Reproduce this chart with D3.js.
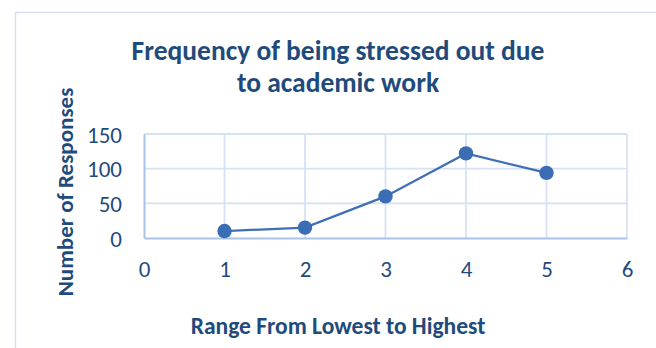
<!DOCTYPE html>
<html><head><meta charset="utf-8">
<script src="https://cdn.jsdelivr.net/npm/d3@7"></script>
<style>
html,body{margin:0;padding:0;background:#fff;}
svg{display:block;}
text{font-family:Carlito, Calibri, Lato, sans-serif;fill:#1f4b7c;}
</style></head>
<body><svg id="c" width="656" height="348"></svg>
<script>
const xValues = [1, 2, 3, 4, 5];
const responses = [10, 15, 60, 122, 94];
const xTicks = [0, 1, 2, 3, 4, 5, 6];
const yTicks = [0, 50, 100, 150];
const titleLines = ["Frequency of being stressed out due", "to academic work"];
const xTitle = "Range From Lowest to Highest";
const yTitle = "Number of Responses";

const svg = d3.select("#c");
const plot = {left:144, right:627, top:134, bottom:238};

// outer chart frame
svg.append("rect").attr("x",15.5).attr("y",12.5).attr("width",800).attr("height",500)
  .attr("fill","none").attr("stroke","#d5e1f3").attr("stroke-width",1.5);

const x = d3.scaleLinear().domain([0,6]).range([plot.left, plot.right]);
const y = d3.scaleLinear().domain([0,150]).range([plot.bottom, plot.top]);

// gridlines
svg.append("g").selectAll("line").data(xTicks.slice(1)).join("line")
  .attr("x1",d=>x(d)).attr("x2",d=>x(d)).attr("y1",plot.top).attr("y2",plot.bottom)
  .attr("stroke","#d6e2f4").attr("stroke-width",1.8);
svg.append("g").selectAll("line").data(yTicks.slice(1)).join("line")
  .attr("x1",plot.left).attr("x2",plot.right).attr("y1",d=>y(d)).attr("y2",d=>y(d))
  .attr("stroke","#d6e2f4").attr("stroke-width",1.8);

// axes
const xAxis = svg.append("g").attr("transform",`translate(0,${plot.bottom})`)
  .call(d3.axisBottom(x).tickValues(xTicks).tickSize(0).tickPadding(23).tickFormat(d3.format("d")));
const yAxis = svg.append("g").attr("transform",`translate(${plot.left},0)`)
  .call(d3.axisLeft(y).tickValues(yTicks).tickSize(0).tickPadding(22).tickFormat(d3.format("d")));
[xAxis,yAxis].forEach(g=>{
  g.select(".domain").attr("stroke","#a9c3e8").attr("stroke-width",2);
  g.selectAll("text").attr("font-family","Carlito, Calibri, Lato, sans-serif").attr("font-size",23).attr("fill","#1f4b7c");
});
xAxis.selectAll("text").attr("dy","0.71em");
yAxis.selectAll("text").attr("dy","0.35em");

// line + markers
const pts = xValues.map((v,i)=>[v, responses[i]]);
svg.append("path").datum(pts)
  .attr("d", d3.line().x(d=>x(d[0])).y(d=>y(d[1])))
  .attr("fill","none").attr("stroke","#3f6fb5").attr("stroke-width",2.2);
svg.append("g").selectAll("circle").data(pts).join("circle")
  .attr("cx",d=>x(d[0])).attr("cy",d=>y(d[1])).attr("r",7.2)
  .attr("fill","#3b6db5");

// titles
svg.append("text").attr("x",338).attr("y",60).attr("text-anchor","middle")
  .attr("font-size",27.5).attr("font-weight","bold").text(titleLines[0]);
svg.append("text").attr("x",338).attr("y",92).attr("text-anchor","middle")
  .attr("font-size",27.5).attr("font-weight","bold").text(titleLines[1]);
svg.append("text").attr("x",338).attr("y",334).attr("text-anchor","middle")
  .attr("font-size",23.5).attr("font-weight","bold").text(xTitle);
svg.append("text").attr("transform","translate(73,192) rotate(-90)").attr("text-anchor","middle")
  .attr("font-size",23).attr("font-weight","bold").text(yTitle);
</script></body></html>
